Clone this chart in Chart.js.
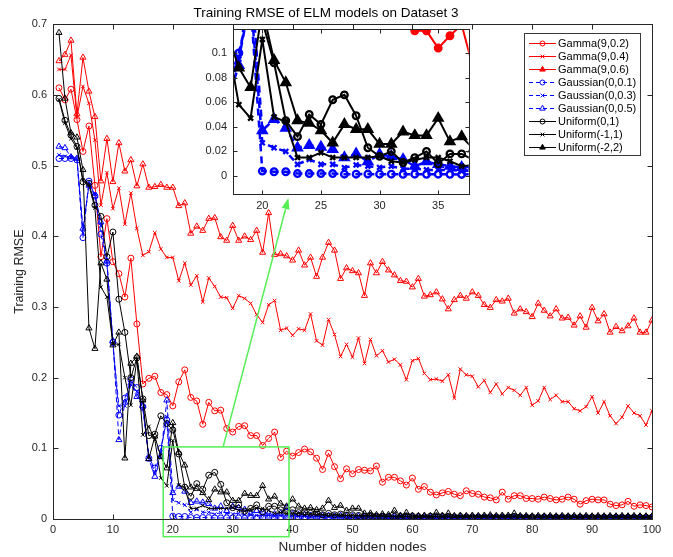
<!DOCTYPE html>
<html>
<head>
<meta charset="utf-8">
<title>Training RMSE of ELM models on Dataset 3</title>
<script src="https://cdn.jsdelivr.net/npm/chart.js@4.4.1/dist/chart.umd.min.js"></script>
<style>
  html, body { margin:0; padding:0; background:#fff; }
  #wrap { position:relative; width:673px; height:557px; }
  #main { position:absolute; left:0; top:0; width:673px; height:557px; }
  #inset { position:absolute; left:200px; top:20px; width:276px; height:200px; }
</style>
</head>
<body>
<div id="wrap">
  <canvas id="main" width="673" height="557"></canvas>
  <canvas id="inset" width="276" height="200"></canvas>
</div>
<script>
/* ---------- data ---------- */
const nodes = Array.from({length:100}, (_, i) => i + 1);
const xTicks = [0,10,20,30,40,50,60,70,80,90,100];
const yTicks = [0,0.1,0.2,0.3,0.4,0.5,0.6,0.7];
const insetXTicks = [20,25,30,35];
const insetYTicks = [0,0.02,0.04,0.06,0.08,0.1];

const gamma02 = [
  0.610,0.593,0.608,0.565,0.520,0.556,0.472,0.371,0.425,0.364,
  0.347,0.314,0.369,0.276,0.191,0.199,0.202,0.179,0.176,0.160,
  0.194,0.211,0.172,0.167,0.134,0.165,0.153,0.154,0.128,0.123,
  0.131,0.132,0.118,0.118,0.104,0.114,0.123,0.087,0.096,0.089,
  0.094,0.099,0.095,0.086,0.070,0.093,0.074,0.057,0.071,0.064,
  0.070,0.069,0.068,0.075,0.052,0.059,0.059,0.054,0.048,0.058,
  0.042,0.046,0.038,0.034,0.037,0.039,0.035,0.033,0.040,0.036,
  0.035,0.031,0.030,0.027,0.038,0.028,0.033,0.033,0.029,0.029,
  0.028,0.031,0.029,0.027,0.028,0.031,0.028,0.021,0.026,0.028,
  0.027,0.027,0.021,0.019,0.020,0.025,0.018,0.020,0.019,0.017];
const gamma04 = [
  0.636,0.636,0.656,0.568,0.612,0.588,0.536,0.444,0.490,0.439,
  0.468,0.417,0.461,0.411,0.373,0.378,0.405,0.382,0.370,0.370,
  0.337,0.362,0.331,0.344,0.307,0.341,0.329,0.314,0.313,0.298,
  0.316,0.312,0.305,0.289,0.278,0.303,0.309,0.267,0.270,0.260,
  0.269,0.267,0.290,0.252,0.246,0.282,0.261,0.230,0.247,0.229,
  0.256,0.220,0.254,0.231,0.238,0.222,0.226,0.218,0.197,0.224,
  0.227,0.206,0.197,0.198,0.195,0.204,0.171,0.212,0.204,0.202,
  0.187,0.196,0.179,0.191,0.177,0.186,0.182,0.175,0.186,0.161,
  0.167,0.186,0.169,0.175,0.166,0.166,0.156,0.153,0.159,0.173,
  0.150,0.166,0.146,0.135,0.144,0.160,0.150,0.146,0.133,0.153];
const gamma06 = [
  0.648,0.657,0.677,0.573,0.653,0.605,0.569,0.478,0.538,0.477,
  0.532,0.492,0.508,0.471,0.502,0.469,0.470,0.473,0.469,0.469,
  0.443,0.447,0.404,0.414,0.408,0.425,0.426,0.399,0.394,0.415,
  0.394,0.400,0.395,0.408,0.377,0.433,0.374,0.375,0.372,0.366,
  0.380,0.359,0.370,0.343,0.370,0.391,0.380,0.340,0.355,0.351,
  0.348,0.316,0.362,0.348,0.364,0.352,0.345,0.337,0.336,0.328,
  0.340,0.315,0.317,0.321,0.311,0.297,0.310,0.316,0.312,0.321,
  0.316,0.303,0.299,0.310,0.308,0.312,0.291,0.297,0.293,0.286,
  0.305,0.295,0.287,0.297,0.284,0.285,0.274,0.287,0.271,0.299,
  0.280,0.290,0.264,0.272,0.266,0.273,0.284,0.264,0.264,0.281];
const gauss01 = [
  0.510,0.510,0.510,0.508,0.398,0.478,0.457,0.403,0.362,0.250,
  0.147,0.171,0.197,0.186,0.159,0.086,0.072,0.100,0.140,0.004,
  0.0035,0.0035,0.002,0.002,0.002,0.002,0.0015,0.0015,0.0016,0.0015,
  0.0015,0.0014,0.0015,0.0014,0.0015,0.0014,0.0013,0.0014,0.0012,0.0012,
  0.0012,0.0011,0.0012,0.0011,0.0010,0.0011,0.0010,0.0011,0.0010,0.0010,
  0.0010,0.0010,0.0009,0.0010,0.0010,0.0009,0.0010,0.0009,0.0009,0.0010,
  0.0009,0.0009,0.0009,0.0008,0.0009,0.0009,0.0008,0.0009,0.0008,0.0008,
  0.0008,0.0008,0.0009,0.0008,0.0008,0.0007,0.0008,0.0008,0.0007,0.0008,
  0.0007,0.0007,0.0008,0.0007,0.0007,0.0007,0.0007,0.0006,0.0007,0.0007,
  0.0006,0.0007,0.0006,0.0006,0.0007,0.0006,0.0006,0.0006,0.0006,0.0006];
const gauss03 = [
  0.515,0.513,0.512,0.510,0.405,0.475,0.460,0.415,0.363,0.248,
  0.160,0.160,0.190,0.180,0.155,0.090,0.066,0.095,0.145,0.027,
  0.023,0.020,0.0095,0.0135,0.0095,0.0095,0.0068,0.009,0.008,0.007,
  0.008,0.006,0.006,0.005,0.005,0.005,0.004,0.0045,0.004,0.004,
  0.0035,0.0035,0.003,0.0032,0.003,0.0028,0.003,0.0027,0.0028,0.0025,
  0.0025,0.0024,0.0025,0.0023,0.0024,0.0022,0.0023,0.0022,0.0021,0.0022,
  0.0021,0.0020,0.0021,0.0020,0.0019,0.0020,0.0019,0.0019,0.0018,0.0019,
  0.0018,0.0018,0.0017,0.0018,0.0017,0.0017,0.0016,0.0017,0.0016,0.0016,
  0.0016,0.0015,0.0016,0.0015,0.0015,0.0015,0.0014,0.0015,0.0014,0.0014,
  0.0014,0.0013,0.0014,0.0013,0.0013,0.0013,0.0012,0.0013,0.0012,0.0012];
const gauss05 = [
  0.527,0.525,0.512,0.510,0.411,0.472,0.457,0.420,0.365,0.252,
  0.112,0.165,0.192,0.173,0.160,0.085,0.060,0.090,0.168,0.037,
  0.046,0.039,0.023,0.025,0.0235,0.0216,0.015,0.018,0.0117,0.0176,
  0.016,0.0135,0.008,0.0117,0.0095,0.008,0.007,0.008,0.016,0.007,
  0.006,0.006,0.005,0.006,0.005,0.005,0.004,0.005,0.004,0.004,
  0.004,0.0035,0.004,0.0035,0.0035,0.003,0.0035,0.003,0.003,0.003,
  0.003,0.0028,0.003,0.0027,0.0028,0.0026,0.0027,0.0025,0.0026,0.0025,
  0.0025,0.0024,0.0025,0.0023,0.0024,0.0023,0.0022,0.0023,0.0022,0.0022,
  0.0021,0.0022,0.0021,0.0020,0.0021,0.0020,0.0020,0.0019,0.0020,0.0019,
  0.0019,0.0018,0.0019,0.0018,0.0018,0.0018,0.0017,0.0018,0.0017,0.0017];
const unif01 = [
  0.595,0.564,0.543,0.527,0.477,0.475,0.444,0.428,0.371,0.406,
  0.311,0.264,0.200,0.228,0.170,0.118,0.120,0.146,0.135,0.126,
  0.092,0.045,0.032,0.050,0.042,0.062,0.066,0.049,0.023,0.016,
  0.020,0.011,0.015,0.020,0.010,0.018,0.018,0.013,0.011,0.013,
  0.009,0.010,0.008,0.009,0.006,0.008,0.006,0.007,0.005,0.006,
  0.005,0.004,0.005,0.004,0.004,0.0035,0.004,0.0035,0.0035,0.004,
  0.0035,0.003,0.004,0.003,0.0035,0.003,0.003,0.0035,0.003,0.003,
  0.003,0.003,0.0032,0.003,0.003,0.0028,0.0035,0.003,0.0028,0.003,
  0.0028,0.003,0.0028,0.0027,0.003,0.0028,0.0027,0.0028,0.0027,0.0028,
  0.0027,0.0028,0.0026,0.0027,0.0028,0.0026,0.0027,0.0026,0.0027,0.0026];
const unifM11 = [
  0.593,0.560,0.538,0.525,0.480,0.472,0.440,0.328,0.314,0.248,
  0.247,0.200,0.161,0.226,0.119,0.131,0.112,0.058,0.047,0.111,
  0.048,0.044,0.015,0.015,0.019,0.015,0.015,0.015,0.015,0.016,
  0.012,0.011,0.013,0.015,0.015,0.012,0.008,0.009,0.008,0.007,
  0.008,0.006,0.007,0.006,0.006,0.005,0.006,0.005,0.005,0.005,
  0.0045,0.004,0.0045,0.004,0.004,0.004,0.0038,0.004,0.0037,0.0038,
  0.0036,0.0037,0.0035,0.0036,0.0035,0.0034,0.0035,0.0034,0.0034,0.0033,
  0.0034,0.0033,0.0032,0.0033,0.0032,0.0032,0.0031,0.0032,0.0031,0.0031,
  0.0031,0.0030,0.0031,0.0030,0.0030,0.0030,0.0029,0.0030,0.0029,0.0029,
  0.0029,0.0028,0.0029,0.0028,0.0028,0.0028,0.0028,0.0027,0.0028,0.0027];
const unifM22 = [
  0.688,0.595,0.546,0.540,0.494,0.270,0.241,0.362,0.339,0.246,
  0.264,0.086,0.220,0.230,0.168,0.085,0.117,0.088,0.072,0.136,
  0.094,0.076,0.045,0.043,0.037,0.027,0.042,0.038,0.038,0.026,
  0.026,0.036,0.033,0.033,0.047,0.028,0.032,0.022,0.018,0.028,
  0.018,0.015,0.016,0.013,0.015,0.026,0.016,0.019,0.012,0.015,
  0.015,0.008,0.008,0.006,0.007,0.006,0.012,0.005,0.009,0.005,
  0.0045,0.005,0.0045,0.009,0.005,0.008,0.0045,0.005,0.0045,0.005,
  0.0045,0.005,0.0055,0.0045,0.005,0.005,0.008,0.0045,0.0045,0.004,
  0.0045,0.004,0.0045,0.004,0.0045,0.004,0.0045,0.004,0.0045,0.004,
  0.0045,0.004,0.0045,0.004,0.0045,0.004,0.0045,0.004,0.004,0.004];

/* zoom box and arrow, in main-axis data units */
const zoomBoxX = [18.4, 39.4];
const zoomBoxY = [-0.025, 0.102];
const arrowFrom = [28.4, 0.102];
const arrowTo = [39.3, 0.454];

/* ---------- series styling ---------- */
const RED = '#ff0000', BLUE = '#0000ff', BLACK = '#000000';
const series = [
  {label:'Gamma(9,0.2)',    data:gamma02, color:RED,   marker:'circle',   dash:false},
  {label:'Gamma(9,0.4)',    data:gamma04, color:RED,   marker:'crossRot', dash:false},
  {label:'Gamma(9,0.6)',    data:gamma06, color:RED,   marker:'triangle', dash:false},
  {label:'Gaussian(0,0.1)', data:gauss01, color:BLUE,  marker:'circle',   dash:true},
  {label:'Gaussian(0,0.3)', data:gauss03, color:BLUE,  marker:'crossRot', dash:true},
  {label:'Gaussian(0,0.5)', data:gauss05, color:BLUE,  marker:'triangle', dash:true},
  {label:'Uniform(0,1)',    data:unif01,  color:BLACK, marker:'circle',   dash:false},
  {label:'Uniform(-1,1)',   data:unifM11, color:BLACK, marker:'crossRot', dash:false},
  {label:'Uniform(-2,2)',   data:unifM22, color:BLACK, marker:'triangle', dash:false}
];

function makeDatasets(big){
  return series.map((s, i) => {
    const tri = s.marker === 'triangle', cross = s.marker === 'crossRot';
    const r = big ? (tri ? 5 : cross ? 3.5 : 3.3) : (tri ? 3.5 : cross ? 2.5 : 3);
    const solidFill = big && (tri || s.color === RED);
    return {
      label: s.label, data: s.data, order: series.length - i,
      borderColor: s.color, backgroundColor: s.color,
      borderWidth: big ? (s.dash ? 2.5 : 2) : 1,
      borderDash: s.dash ? (big ? [7,5] : [5,3]) : [],
      pointStyle: s.marker, pointRadius: r, pointHoverRadius: r,
      pointBorderColor: s.color, pointBorderWidth: big ? 2.3 : 1,
      pointBackgroundColor: solidFill ? s.color : 'rgba(0,0,0,0)',
      tension: 0, fill: false
    };
  });
}

const fmt = v => String(+(+v).toFixed(3));
const AXIS = '#262626';
Chart.defaults.font.family = '"Liberation Sans", Arial, Helvetica, sans-serif';
Chart.defaults.color = AXIS;

// drop the label-overflow padding so the plot box sits exactly where the layout puts it
function fixV(w){ return s => { s.width = w; s.paddingTop = 0; s.paddingBottom = 0; }; }
function fixH(h){ return s => { s.height = h; s.paddingLeft = 0; s.paddingRight = 0; }; }

/* ---------- plugins ---------- */
// MATLAB style box with inward tick marks on all four sides
const frame = {
  id: 'frame',
  afterDraw(chart, args, o){
    const {ctx, chartArea:a, scales:{x, y}} = chart;
    const L = o.tick || 5;
    ctx.save();
    ctx.strokeStyle = AXIS; ctx.lineWidth = 1; ctx.setLineDash([]);
    const l = Math.round(a.left) + 0.5, r = Math.round(a.right) + 0.5;
    const t = Math.round(a.top) + 0.5, b = Math.round(a.bottom) + 0.5;
    ctx.strokeRect(l, t, r - l, b - t);
    ctx.beginPath();
    x.ticks.forEach(tk => {
      const px = Math.round(x.getPixelForValue(tk.value)) + 0.5;
      ctx.moveTo(px, b); ctx.lineTo(px, b - L);
      ctx.moveTo(px, t); ctx.lineTo(px, t + L);
    });
    y.ticks.forEach(tk => {
      const py = Math.round(y.getPixelForValue(tk.value)) + 0.5;
      ctx.moveTo(l, py); ctx.lineTo(l + L, py);
      ctx.moveTo(r, py); ctx.lineTo(r - L, py);
    });
    ctx.stroke();
    ctx.restore();
  }
};

const plotBg = {
  id: 'plotBg',
  beforeDatasetsDraw(chart){
    const {ctx, chartArea:a} = chart;
    ctx.save(); ctx.fillStyle = '#fff';
    ctx.fillRect(a.left, a.top, a.right - a.left, a.bottom - a.top);
    ctx.restore();
  }
};

const zoomMark = {
  id: 'zoomMark',
  afterDatasetsDraw(chart){
    const {ctx, scales:{x, y}} = chart;
    const GREEN = '#55ee55';
    ctx.save();
    ctx.strokeStyle = GREEN; ctx.fillStyle = GREEN; ctx.lineWidth = 1.5;
    const x0 = x.getPixelForValue(zoomBoxX[0]), x1 = x.getPixelForValue(zoomBoxX[1]);
    const y0 = y.getPixelForValue(zoomBoxY[1]), y1 = y.getPixelForValue(zoomBoxY[0]);
    ctx.strokeRect(x0, y0, x1 - x0, y1 - y0);
    const ax = x.getPixelForValue(arrowFrom[0]), ay = y.getPixelForValue(arrowFrom[1]);
    const bx = x.getPixelForValue(arrowTo[0]), by = y.getPixelForValue(arrowTo[1]);
    const ang = Math.atan2(by - ay, bx - ax), hl = 11, hw = 4;
    const cx = bx - hl * Math.cos(ang), cy = by - hl * Math.sin(ang);
    ctx.beginPath(); ctx.moveTo(ax, ay); ctx.lineTo(cx, cy); ctx.stroke();
    ctx.beginPath();
    ctx.moveTo(bx, by);
    ctx.lineTo(cx + hw * Math.sin(ang), cy - hw * Math.cos(ang));
    ctx.lineTo(cx - hw * Math.sin(ang), cy + hw * Math.cos(ang));
    ctx.closePath(); ctx.fill();
    ctx.restore();
  }
};

function drawMarker(ctx, style, x, y, r, fill){
  ctx.beginPath();
  if (style === 'circle') ctx.arc(x, y, r, 0, Math.PI * 2);
  else if (style === 'triangle'){
    ctx.moveTo(x, y - r); ctx.lineTo(x + r * 0.87, y + r * 0.5); ctx.lineTo(x - r * 0.87, y + r * 0.5); ctx.closePath();
  } else {
    const d = r * 0.75;
    ctx.moveTo(x - d, y - d); ctx.lineTo(x + d, y + d); ctx.moveTo(x + d, y - d); ctx.lineTo(x - d, y + d);
  }
  if (fill) ctx.fill();
  ctx.stroke();
}

const boxLegend = {
  id: 'boxLegend',
  afterDraw(chart, args, o){
    const {ctx} = chart;
    ctx.save();
    ctx.fillStyle = '#fff'; ctx.fillRect(o.x, o.y, o.w, o.h);
    ctx.strokeStyle = '#3a3a3a'; ctx.lineWidth = 1;
    ctx.strokeRect(o.x + 0.5, o.y + 0.5, o.w, o.h);
    ctx.font = '11px "Liberation Sans", Arial, sans-serif';
    ctx.textBaseline = 'middle'; ctx.textAlign = 'left';
    series.forEach((s, i) => {
      const cy = Math.round(o.y + o.first + i * o.step) + 0.5;
      ctx.strokeStyle = s.color; ctx.fillStyle = s.color; ctx.lineWidth = 1;
      ctx.setLineDash(s.dash ? [4,3] : []);
      ctx.beginPath(); ctx.moveTo(o.x + 5, cy); ctx.lineTo(o.x + 32, cy); ctx.stroke();
      ctx.setLineDash([]);
      const tri = s.marker === 'triangle';
      drawMarker(ctx, s.marker, o.x + 18.5, cy, tri ? 3.2 : 2.5, tri && s.color !== BLUE);
      ctx.fillStyle = '#000';
      ctx.fillText(s.label, o.x + 34, cy);
    });
    ctx.restore();
  }
};

/* ---------- main chart ---------- */
new Chart(document.getElementById('main'), {
  type: 'line',
  data: { labels: nodes, datasets: makeDatasets(false) },
  options: {
    responsive: false, animation: false,
    layout: { padding: { left: 0, right: 21, top: 0, bottom: 0 } },
    plugins: {
      legend: { display: false }, tooltip: { enabled: false },
      title: { display: true, text: 'Training RMSE of ELM models on Dataset 3',
               font: { size: 13.5, weight: 'normal' }, color: '#000', padding: { top: 5, bottom: 3 } },
      frame: { tick: 5 },
      boxLegend: { x: 524, y: 33, w: 116, h: 122, first: 9.7, step: 13.05 }
    },
    scales: {
      x: {
        type: 'linear', min: 0, max: 100,
        afterBuildTicks: s => { s.ticks = xTicks.map(v => ({ value: v })); },
        afterFit: fixH(38),
        grid: { display: false, drawTicks: false }, border: { display: false },
        ticks: { padding: 4, font: { size: 11 }, maxRotation: 0, callback: v => fmt(v) },
        title: { display: true, text: 'Number of hidden nodes', font: { size: 13.5 }, color: AXIS,
                 padding: { top: 0, bottom: 2 } }
      },
      y: {
        type: 'linear', min: 0, max: 0.7,
        afterBuildTicks: s => { s.ticks = yTicks.map(v => ({ value: v })); },
        afterFit: fixV(53),
        grid: { display: false, drawTicks: false }, border: { display: false },
        ticks: { padding: 6, font: { size: 11 }, callback: v => fmt(v) },
        title: { display: true, text: 'Training RMSE', font: { size: 12.5 }, color: AXIS,
                 padding: { top: 12, bottom: 0 } }
      }
    }
  },
  plugins: [zoomMark, frame, boxLegend]
});

/* ---------- inset (zoomed view of nodes 17.5 - 37.6) ---------- */
new Chart(document.getElementById('inset'), {
  type: 'line',
  data: { labels: nodes, datasets: makeDatasets(true) },
  options: {
    responsive: false, animation: false,
    layout: { padding: { left: 0, right: 4, top: 9, bottom: 0 } },
    plugins: { legend: { display: false }, tooltip: { enabled: false }, title: { display: false }, frame: { tick: 4 } },
    scales: {
      x: {
        type: 'linear', min: 17.5, max: 37.6,
        afterBuildTicks: s => { s.ticks = insetXTicks.map(v => ({ value: v })); },
        afterFit: fixH(26),
        grid: { display: false, drawTicks: false }, border: { display: false },
        ticks: { padding: 5, font: { size: 11 }, maxRotation: 0, callback: v => fmt(v) }
      },
      y: {
        type: 'linear', min: -0.0146, max: 0.1195,
        afterBuildTicks: s => { s.ticks = insetYTicks.map(v => ({ value: v })); },
        afterFit: fixV(33),
        grid: { display: false, drawTicks: false }, border: { display: false },
        ticks: { padding: 6, font: { size: 11 }, callback: v => fmt(v) }
      }
    }
  },
  plugins: [plotBg, frame]
});
</script>
</body>
</html>
